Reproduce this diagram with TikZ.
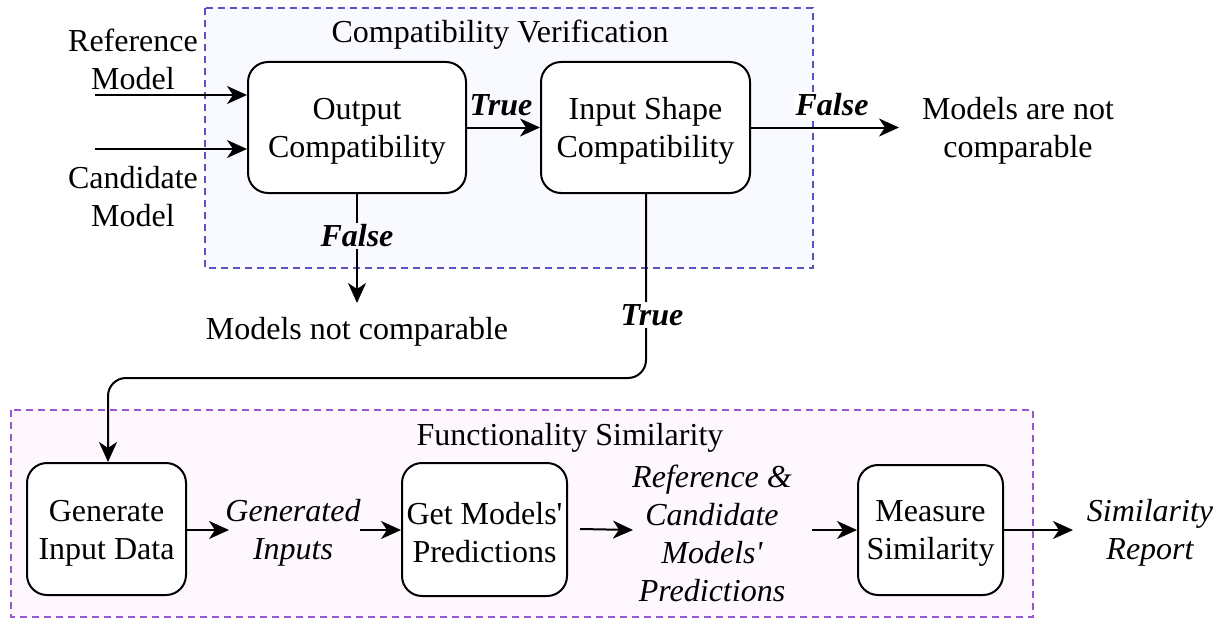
\documentclass[tikz,border=0pt]{standalone}
\usepackage{fontspec}
\newfontfamily\tnr{LiberationSerif}[Extension=.ttf, UprightFont=*-Regular, BoldFont=*-Bold, ItalicFont=*-Italic, BoldItalicFont=*-BoldItalic]
\usetikzlibrary{arrows.meta}
\definecolor{topborder}{RGB}{92,82,200}
\definecolor{topfill}{RGB}{248,250,255}
\definecolor{botborder}{RGB}{150,90,205}
\definecolor{botfill}{RGB}{254,248,254}
\begin{document}
\begin{tikzpicture}[x=1pt,y=-1pt,
  every node/.style={font=\tnr\fontsize{32}{38}\selectfont, align=center, inner sep=0pt},
  proc/.style={draw, line width=2pt, rounded corners=20pt, fill=white},
  group/.style={dashed, dash pattern=on 7pt off 5pt, line width=1.6pt},
  conn/.style={line width=2pt, -{Stealth[length=20pt,width=18pt,inset=6pt]}},
  lbl/.style={font=\tnr\fontsize{32}{38}\selectfont\bfseries\itshape, inner sep=2pt},
  ital/.style={font=\tnr\fontsize{32}{38}\selectfont\itshape}
]
\useasboundingbox (0,0) rectangle (1223,618);
% groups
\draw[group, draw=topborder, fill=topfill] (205,8) rectangle (813,268);
\draw[group, draw=botborder, fill=botfill] (11,410) rectangle (1033,617);
\node (t1) at (500,35) {Compatibility Verification};
\node (t2) at (570,438) {Functionality Similarity};
% boxes
\node[proc, minimum width=218pt, minimum height=131pt] (oc) at (357,127.5) {};
\node[proc, minimum width=209pt, minimum height=131pt] (isc) at (645.5,127.5) {};
\node[proc, minimum width=159pt, minimum height=132pt] (gen) at (106.5,529) {};
\node[proc, minimum width=165pt, minimum height=133pt] (get) at (484.5,529.5) {};
\node[proc, minimum width=145pt, minimum height=130pt] (meas) at (930.5,530) {};
\node (oct) at (357,131) {Output\\Compatibility};
\node (isct) at (645.5,131) {Input Shape\\Compatibility};
\node (gent) at (106.5,533) {Generate\\Input Data};
\node (gett) at (484.5,533) {Get Models'\\Predictions};
\node (meast) at (930.5,533) {Measure\\Similarity};
% texts
\node (ref) at (133,59) {Reference\\Model};
\node (cand) at (133,197) {Candidate\\Model};
\node (nc1) at (1018,131) {Models are not\\comparable};
\node (nc2) at (357,332) {Models not comparable};
\node[ital] (gi) at (293,533) {Generated\\Inputs};
\node[ital] (rc) at (712,533) {Reference \&\\Candidate\\Models'\\Predictions};
\node[ital] (sr) at (1150,533) {Similarity\\Report};
% inputs
\coordinate (r0) at (95,95);
\coordinate (c0) at (95,149);
\draw[conn] (r0) -- (r0 -| oc.west);
\draw[conn] (c0) -- (c0 -| oc.west);
% true arrow
\draw[conn] (oc.east) -- (isc.west);
\node[lbl] (tl1) at (501,105) {True};
% false right
\coordinate (fe) at (899,127.5);
\draw[conn] (isc.east) -- (fe);
\node[lbl, fill=white] (fl1) at (832,105) {False};
% false down
\coordinate (fd) at (357,303);
\draw[conn] (oc.south) -- (fd);
\node[lbl, fill=topfill] (fl2) at (357,236) {False};
% true down and around
\coordinate (k1) at (646,378);
\coordinate (k2) at (108,378);
\draw[conn, rounded corners=18pt] (isc.south -| k1) -- (k1) -- (k2) -- (gen.north -| k2);
\node[lbl, fill=white] (tl2) at (652,315) {True};
% bottom flow
\coordinate (a1) at (229,530);
\draw[conn] (gen.east |- a1) -- (a1);
\coordinate (a2) at (360,530);
\draw[conn] (a2) -- (a2 -| get.west);
\coordinate (a3) at (580,529);
\coordinate (a3e) at (633,530);
\draw[conn] (a3) -- (a3e);
\coordinate (a4) at (812,530);
\draw[conn] (a4) -- (meas.west);
\coordinate (a5) at (1073,530);
\draw[conn] (meas.east) -- (a5);
\end{tikzpicture}
\end{document}
